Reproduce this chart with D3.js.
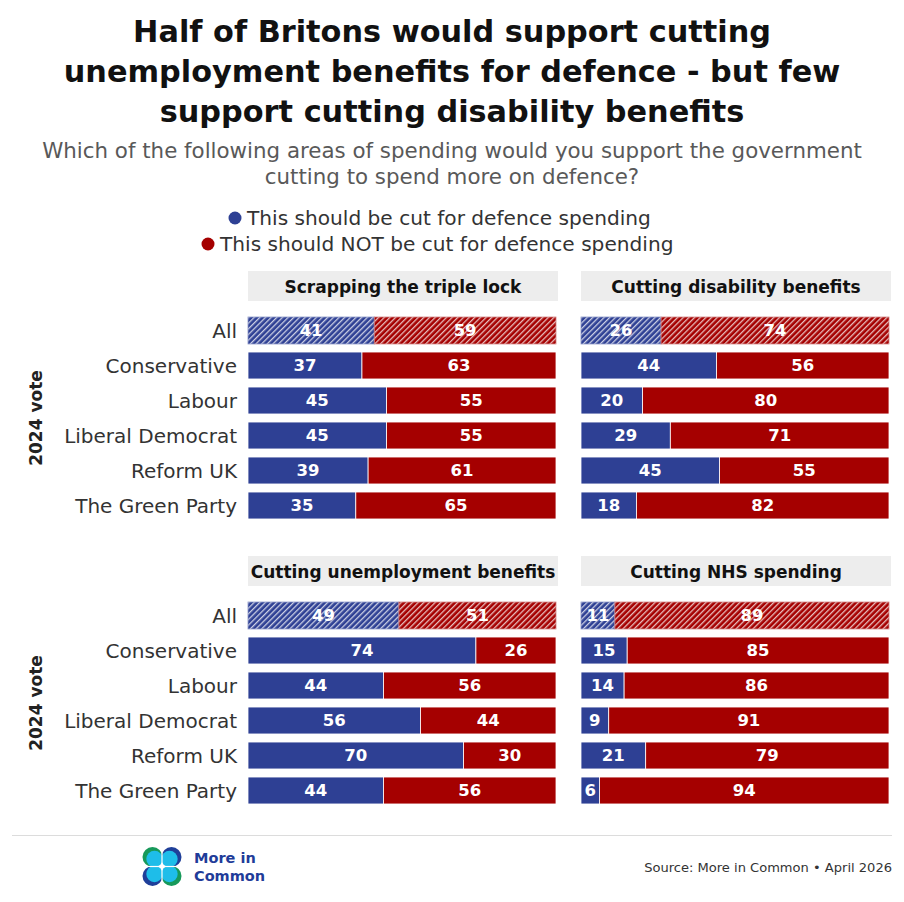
<!DOCTYPE html>
<html>
<head>
<meta charset="utf-8">
<script src="https://cdn.jsdelivr.net/npm/d3@7"></script>
<style>
  html, body { margin: 0; padding: 0; background: #fff; }
  svg { display: block; font-family: "DejaVu Sans", "Noto Sans", sans-serif; }
</style>
</head>
<body>
<svg id="chart" width="904" height="902"></svg>
<script>
// ---- Data ----
const titleLines = [
  "Half of Britons would support cutting",
  "unemployment benefits for defence - but few",
  "support cutting disability benefits"
];
const subtitleLines = [
  "Which of the following areas of spending would you support the government",
  "cutting to spend more on defence?"
];
const seriesNames = ["This should be cut for defence spending", "This should NOT be cut for defence spending"];
const categories = ["All", "Conservative", "Labour", "Liberal Democrat", "Reform UK", "The Green Party"];
const groupLabel = "2024 vote";
const panelTitles = ["Scrapping the triple lock", "Cutting disability benefits", "Cutting unemployment benefits", "Cutting NHS spending"];
const tripleLockCut = [41, 37, 45, 45, 39, 35];
const tripleLockNot = [59, 63, 55, 55, 61, 65];
const disabilityCut = [26, 44, 20, 29, 45, 18];
const disabilityNot = [74, 56, 80, 71, 55, 82];
const unemploymentCut = [49, 74, 44, 56, 70, 44];
const unemploymentNot = [51, 26, 56, 44, 30, 56];
const nhsCut = [11, 15, 14, 9, 21, 6];
const nhsNot = [89, 85, 86, 91, 79, 94];
const sourceText = "Source: More in Common \u2022 April 2026";

const panels = [
  { title: panelTitles[0], cut: tripleLockCut, not: tripleLockNot, col: 0, row: 0 },
  { title: panelTitles[1], cut: disabilityCut, not: disabilityNot, col: 1, row: 0 },
  { title: panelTitles[2], cut: unemploymentCut, not: unemploymentNot, col: 0, row: 1 },
  { title: panelTitles[3], cut: nhsCut, not: nhsNot, col: 1, row: 1 }
];

// ---- Styles ----
const BLUE = "#2e4094";
const RED = "#a50000";
const svg = d3.select("#chart");
const W = 904;

// fit a text's font size so its width matches a target width
function fit(sel, target, base) {
  const w = sel.node().getComputedTextLength();
  if (w > 0) sel.attr("font-size", base * target / w);
  return sel;
}

// patterns
const defs = svg.append("defs");
[["hatchBlue", BLUE], ["hatchRed", RED]].forEach(([id, c]) => {
  const p = defs.append("pattern").attr("id", id).attr("patternUnits", "userSpaceOnUse")
    .attr("width", 4).attr("height", 4).attr("patternTransform", "rotate(45)");
  p.append("rect").attr("width", 4).attr("height", 4).attr("fill", c);
  p.append("rect").attr("x", 0).attr("width", 1.3).attr("height", 4).attr("fill", "#fff").attr("opacity", 0.75);
});

// ---- Title ----
const titleG = svg.append("g");
const titleTexts = titleLines.map((t, i) => titleG.append("text").attr("x", W / 2).attr("y", 42 + i * 40)
    .attr("text-anchor", "middle").attr("font-size", 32).attr("font-weight", "bold")
    .attr("fill", "#111").text(t));
fit(titleTexts[1], 777, 32);
titleTexts.forEach(t => t.attr("font-size", titleTexts[1].attr("font-size")));

const subG = svg.append("g");
const subTexts = subtitleLines.map((t, i) => subG.append("text").attr("x", W / 2).attr("y", 158 + i * 26)
    .attr("text-anchor", "middle").attr("font-size", 20).attr("fill", "#595959").text(t));
fit(subTexts[0], 820, 20);
subTexts.forEach(t => t.attr("font-size", subTexts[0].attr("font-size")));

// ---- Legend ----
const legendColors = [BLUE, RED];
const legendDotX = [235, 208];
const legTexts = seriesNames.map((s, i) => {
  const g = svg.append("g");
  g.append("circle").attr("cx", legendDotX[i]).attr("cy", 218 + i * 26).attr("r", 6.5).attr("fill", legendColors[i]);
  return g.append("text").attr("x", legendDotX[i] + 12).attr("y", 225 + i * 26)
    .attr("font-size", 19).attr("fill", "#333").text(s);
});
fit(legTexts[0], 404, 19);
legTexts.forEach(t => t.attr("font-size", legTexts[0].attr("font-size")));

// ---- Panels ----
const colX = [248, 581];
const rowY = [271, 556];
const panelW = 308;
const x = d3.scaleLinear().domain([0, 100]).range([0, panelW]);
const y = d3.scaleBand().domain(categories).range([0, 210]).paddingInner(0.23).paddingOuter(0.115);

panels.forEach(p => {
  const g = svg.append("g").attr("transform", `translate(${colX[p.col]},${rowY[p.row]})`);
  g.append("rect").attr("x", 0).attr("y", 0).attr("width", panelW + 2).attr("height", 30).attr("fill", "#ededed");
  g.append("text").attr("x", (panelW + 2) / 2).attr("y", 21.5).attr("text-anchor", "middle")
    .attr("font-size", 17).attr("font-weight", "bold").attr("fill", "#111").text(p.title);

  const bars = g.append("g").attr("transform", "translate(0,42)");
  const rows = categories.map((c, i) => ({ c, i, cut: p.cut[i], not: p.not[i] }));
  const rg = bars.selectAll("g.row").data(rows).join("g").attr("class", "row")
    .attr("transform", d => `translate(0,${y(d.c)})`);
  rg.append("rect").attr("x", 0).attr("y", 0).attr("width", d => x(d.cut)).attr("height", y.bandwidth())
    .attr("fill", d => d.i === 0 ? "url(#hatchBlue)" : BLUE)
    .attr("stroke", d => d.i === 0 ? "#8a95c6" : "#fff").attr("stroke-width", 0.8);
  rg.append("rect").attr("x", d => x(d.cut)).attr("y", 0).attr("width", d => x(d.not)).attr("height", y.bandwidth())
    .attr("fill", d => d.i === 0 ? "url(#hatchRed)" : RED)
    .attr("stroke", d => d.i === 0 ? "#d08080" : "#fff").attr("stroke-width", 0.8);
  rg.append("text").attr("x", d => x(d.cut) / 2).attr("y", y.bandwidth() / 2 + 6)
    .attr("text-anchor", "middle").attr("font-size", 16.5).attr("font-weight", "bold").attr("fill", "#fff")
    .text(d => d.cut);
  rg.append("text").attr("x", d => x(d.cut) + x(d.not) / 2).attr("y", y.bandwidth() / 2 + 6)
    .attr("text-anchor", "middle").attr("font-size", 16.5).attr("font-weight", "bold").attr("fill", "#fff")
    .text(d => d.not);

  if (p.col === 0) {
    const axis = d3.axisLeft(y).tickSize(0).tickPadding(11);
    const ag = bars.append("g").call(axis);
    ag.select(".domain").remove();
    ag.selectAll("text").attr("font-size", 20).attr("fill", "#333")
      .attr("font-family", "'DejaVu Sans', 'Noto Sans', sans-serif").attr("dy", "0.35em");
    const cy = (y(categories[0]) + y(categories[categories.length - 1]) + y.bandwidth()) / 2;
    bars.append("text").attr("transform", `translate(${-206},${cy}) rotate(-90)`)
      .attr("text-anchor", "middle").attr("font-size", 17).attr("font-weight", "bold").attr("fill", "#222")
      .text(groupLabel);
  }
});

// ---- Footer ----
svg.append("line").attr("x1", 12).attr("x2", 892).attr("y1", 835.5).attr("y2", 835.5)
  .attr("stroke", "#dcdcdc").attr("stroke-width", 1);
const src = svg.append("text").attr("x", 892).attr("y", 872).attr("text-anchor", "end")
  .attr("font-size", 13).attr("fill", "#333").text(sourceText);
fit(src, 248, 13);

// logo
const logo = svg.append("g").attr("transform", "translate(162,866.5)");
const lc = [
  { dx: -1, dy: -1, c: "#17995a" },
  { dx: 1, dy: -1, c: "#1f3f99" },
  { dx: -1, dy: 1, c: "#1f3f99" },
  { dx: 1, dy: 1, c: "#17995a" }
];
lc.forEach(d => {
  logo.append("circle").attr("cx", d.dx * 9.5).attr("cy", d.dy * 9.5).attr("r", 10).attr("fill", d.c);
});
lc.forEach(d => {
  logo.append("circle").attr("cx", d.dx * 7.5).attr("cy", d.dy * 7.5).attr("r", 8.2).attr("fill", "#1ebde9");
});
logo.append("rect").attr("x", -0.6).attr("y", -20).attr("width", 1.2).attr("height", 40).attr("fill", "#fff");
logo.append("rect").attr("x", -20).attr("y", -0.6).attr("width", 40).attr("height", 1.2).attr("fill", "#fff");
svg.append("text").attr("x", 194).attr("y", 863).attr("font-size", 14.5).attr("font-weight", "bold")
  .attr("fill", "#1f3c99").text("More in");
svg.append("text").attr("x", 194).attr("y", 881).attr("font-size", 14.5).attr("font-weight", "bold")
  .attr("fill", "#1f3c99").text("Common");
</script>
</body>
</html>
